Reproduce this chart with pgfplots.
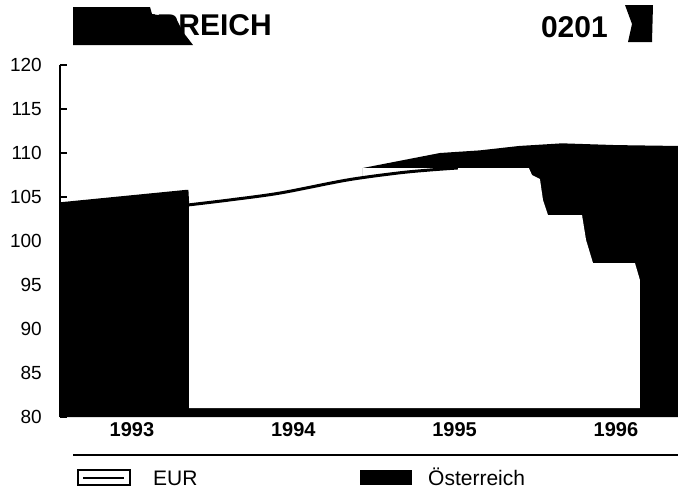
\documentclass[border=0pt]{standalone}
\usepackage{pgfplots}
\pgfplotsset{compat=1.18}
\usepackage{fontspec}
\setmainfont{Liberation Sans}
\begin{document}
\begin{tikzpicture}
\path[use as bounding box] (0pt,0pt) rectangle (678pt,-491pt);
\begin{axis}[
  at={(60pt,-417pt)}, anchor=south west,
  scale only axis, width=618pt, height=352pt,
  xmin=1992.554, xmax=1996.385, ymin=80, ymax=120,
  axis x line*=bottom, axis y line*=left,
  axis line style={-},
  x axis line style={draw=none},
  y axis line style={line width=2.5pt},
  xtick={1993,1994,1995,1996},
  xticklabels={1993,1994,1995,1996},
  xtick style={draw=none},
  ytick={80,85,...,120},
  ytick style={line width=2.5pt, black},
  tick align=inside,
  major tick length=7pt,
  /pgf/number format/assume math mode=true,
  /pgf/number format/1000 sep={},
  yticklabel style={font=\fontsize{19}{22}\selectfont, anchor=east, inner sep=0pt, xshift=-18pt},
  xticklabel style={font=\bfseries\fontsize{20}{24}\selectfont, yshift=-2pt},
  clip=false,
]
% Oesterreich (black area)
\addplot[fill=black, draw=none] coordinates {
 (1992.554,80) (1992.554,104.4) (1993.329,105.8) (1993.350,105.8)
 (1993.355,104.09) (1993.604,104.66) (1993.918,105.45) (1994.333,106.93)
 (1994.432,107.18) (1994.432,108.3) (1994.909,110.0) (1995.157,110.3)
 (1995.4,110.8) (1995.666,111.1) (1996.0,110.9) (1996.385,110.8) (1996.385,80)
};
% EUR (white area)
\addplot[fill=white, draw=none] coordinates {
 (1993.355,81.02) (1993.355,104.09) (1993.604,104.66) (1993.918,105.45)
 (1994.333,106.93) (1994.432,107.18) (1994.432,108.27) (1995.461,108.27)
 (1995.480,107.50) (1995.529,107.05) (1995.548,104.66) (1995.579,102.95)
 (1995.790,102.95) (1995.815,100.11) (1995.858,97.50) (1996.118,97.50)
 (1996.149,95.57) (1996.149,81.02)
};
% EUR line
\addplot[black, line width=3pt, smooth] coordinates {
 (1993.345,104.09) (1993.604,104.66) (1993.918,105.45) (1994.333,106.93)
 (1994.651,107.73) (1994.847,108.07) (1995.020,108.30)
};
\end{axis}
% title
\node[anchor=base east, font=\bfseries\fontsize{30}{36}\selectfont, inner sep=0pt] at (272pt,-35pt) {ÖSTERREICH};
\fill (73pt,-7pt) -- (150pt,-7pt) -- (152pt,-14pt) -- (176pt,-18pt) -- (183pt,-32pt) -- (193pt,-45pt) -- (73pt,-45pt) -- cycle;
\node[anchor=base east, font=\bfseries\fontsize{30}{36}\selectfont, inner sep=0pt] at (608pt,-37pt) {0201};
\fill (625pt,-5pt) -- (653pt,-5pt) -- (652pt,-42pt) -- (628pt,-42pt) -- (632pt,-24pt) -- cycle;
% separator
\draw[line width=2pt] (73pt,-455pt) -- (678pt,-455pt);
% legend
\draw[line width=1.5pt] (78pt,-470pt) rectangle (130pt,-485pt);
\draw[line width=2pt] (83pt,-478pt) -- (124pt,-478pt);
\node[anchor=base west, font=\fontsize{21}{25}\selectfont, inner sep=0pt] at (153pt,-485pt) {EUR};
\fill (360pt,-470pt) rectangle (412pt,-485pt);
\node[anchor=base west, font=\fontsize{21}{25}\selectfont, inner sep=0pt] at (428pt,-485pt) {Österreich};
\end{tikzpicture}
\end{document}
